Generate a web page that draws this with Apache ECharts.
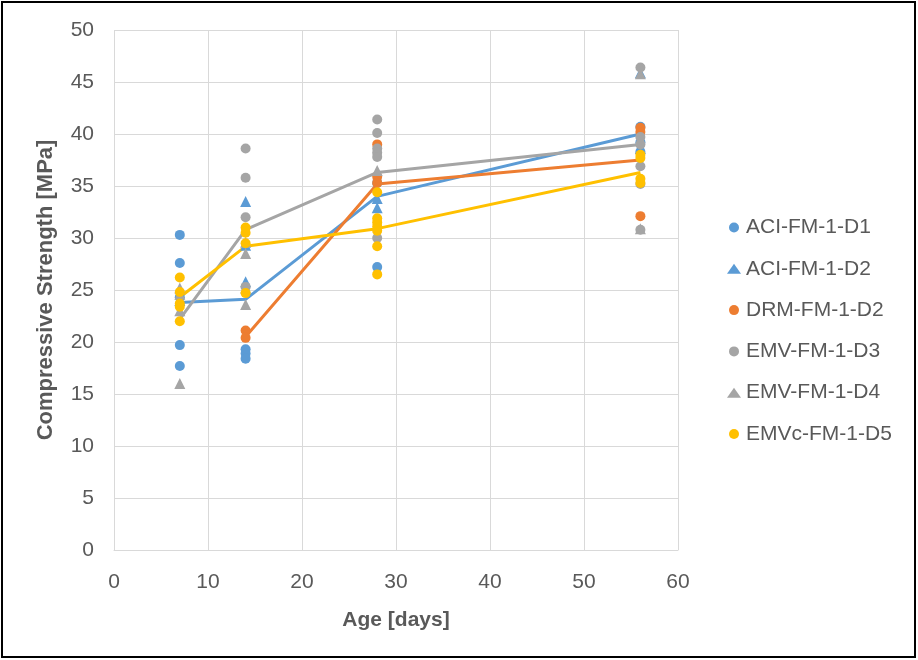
<!DOCTYPE html>
<html>
<head>
<meta charset="utf-8">
<script src="https://cdn.jsdelivr.net/npm/echarts@6/dist/echarts.min.js"></script>
<style>
html,body{margin:0;padding:0;background:#fff;}
#c{width:918px;height:660px;}
</style>
</head>
<body>
<div id="c"></div>
<script>
// Data: [age (days), compressive strength (MPa)]
const aciD1 = [[7,30.3],[7,27.6],[7,24.3],[7,19.7],[7,17.7],[14,19.3],[14,18.9],[14,18.4],[28,35.3],[28,27.2],[56,40.7],[56,39.2],[56,38.3]];
const aciD2 = [[7,24.0],[14,33.5],[14,25.8],[14,29.3],[28,33.8],[28,32.9],[56,45.9],[56,38.6]];
const drmD2 = [[14,21.1],[14,20.4],[28,39.0],[28,35.9],[28,35.3],[56,40.6],[56,40.2],[56,32.1]];
const emvD3 = [[14,38.6],[14,35.8],[14,32.0],[14,25.3],[28,41.4],[28,40.1],[28,38.6],[28,38.2],[28,37.8],[28,30.0],[56,46.4],[56,39.7],[56,39.0],[56,36.9],[56,35.2],[56,30.8]];
const emvD4 = [[7,25.2],[7,24.6],[7,23.0],[7,16.0],[14,29.6],[14,28.5],[14,25.2],[14,23.6],[28,36.5],[56,45.8],[56,30.9]];
const emvcD5 = [[7,26.2],[7,24.8],[7,23.7],[7,23.4],[7,22.0],[14,31.0],[14,30.5],[14,29.5],[14,24.7],[28,34.4],[28,31.9],[28,31.5],[28,31.1],[28,30.7],[28,29.2],[28,26.5],[56,38.0],[56,37.7],[56,35.7],[56,35.3]];

// Mean trend lines
const aciMean = [[7,23.8],[14,24.1],[28,34.0],[56,40.0]];
const drmMean = [[14,20.5],[28,35.2],[56,37.5]];
const emvMean = [[7,22.2],[14,30.8],[28,36.3],[56,39.0]];
const emvcMean = [[7,24.3],[14,29.2],[28,30.9],[56,36.3]];

const seriesNames = ['ACI-FM-1-D1','ACI-FM-1-D2','DRM-FM-1-D2','EMV-FM-1-D3','EMV-FM-1-D4','EMVc-FM-1-D5'];
const xTicks = {min:0, max:60, interval:10};
const yTicks = {min:0, max:50, interval:5};

const BLUE='#5B9BD5', ORANGE='#ED7D31', GRAY='#A5A5A5', YELLOW='#FFC000';
const txt='#595959';
const font='"Liberation Sans", Arial, sans-serif';

function lineS(data,color){
  return {type:'line',data:data,symbol:'none',lineStyle:{color:color,width:3},itemStyle:{color:color},z:2,silent:true,animation:false};
}
function scat(name,data,color,sym,size){
  return {type:'scatter',name:name,data:data,symbol:sym,symbolSize:size,itemStyle:{color:color,opacity:1},z:3,animation:false};
}

const chart = echarts.init(document.getElementById('c'),null,{renderer:'canvas'});
chart.setOption({
  backgroundColor:'#fff',
  animation:false,
  graphic:[{type:'rect',shape:{x:2,y:2,width:913,height:655},style:{fill:'none',stroke:'#000',lineWidth:2},silent:true}],
  grid:{left:114,right:240,top:30,bottom:110},
  legend:{
    orient:'vertical',left:722,top:212,itemGap:20.3,itemWidth:14,itemHeight:10,
    data:[
      {name:seriesNames[0],icon:'circle'},
      {name:seriesNames[1],icon:'triangle'},
      {name:seriesNames[2],icon:'circle'},
      {name:seriesNames[3],icon:'circle'},
      {name:seriesNames[4],icon:'triangle'},
      {name:seriesNames[5],icon:'circle'}
    ],
    textStyle:{color:txt,fontSize:21,fontFamily:font,lineHeight:21}
  },
  xAxis:{
    type:'value',min:xTicks.min,max:xTicks.max,interval:xTicks.interval,
    name:'Age [days]',nameLocation:'middle',nameGap:60,
    nameTextStyle:{color:txt,fontSize:21,fontWeight:'bold',fontFamily:font},
    axisLine:{show:true,lineStyle:{color:'#d9d9d9',width:1}},
    axisTick:{show:false},
    axisLabel:{color:txt,fontSize:21,fontFamily:font,margin:22},
    splitLine:{show:true,lineStyle:{color:'#d9d9d9',width:1}}
  },
  yAxis:{
    type:'value',min:yTicks.min,max:yTicks.max,interval:yTicks.interval,
    name:'Compressive Strength [MPa]',nameLocation:'middle',nameGap:57,
    nameTextStyle:{color:txt,fontSize:22,fontWeight:'bold',fontFamily:font},
    axisLine:{show:false},
    axisTick:{show:false},
    axisLabel:{color:txt,fontSize:21,fontFamily:font,margin:20},
    splitLine:{show:true,lineStyle:{color:'#d9d9d9',width:1}}
  },
  series:[
    lineS(aciMean,BLUE),
    lineS(drmMean,ORANGE),
    lineS(emvMean,GRAY),
    lineS(emvcMean,YELLOW),
    scat(seriesNames[0],aciD1,BLUE,'circle',10),
    scat(seriesNames[1],aciD2,BLUE,'triangle',11),
    scat(seriesNames[2],drmD2,ORANGE,'circle',10),
    scat(seriesNames[3],emvD3,GRAY,'circle',10),
    scat(seriesNames[4],emvD4,GRAY,'triangle',11),
    scat(seriesNames[5],emvcD5,YELLOW,'circle',10)
  ]
});
</script>
</body>
</html>
